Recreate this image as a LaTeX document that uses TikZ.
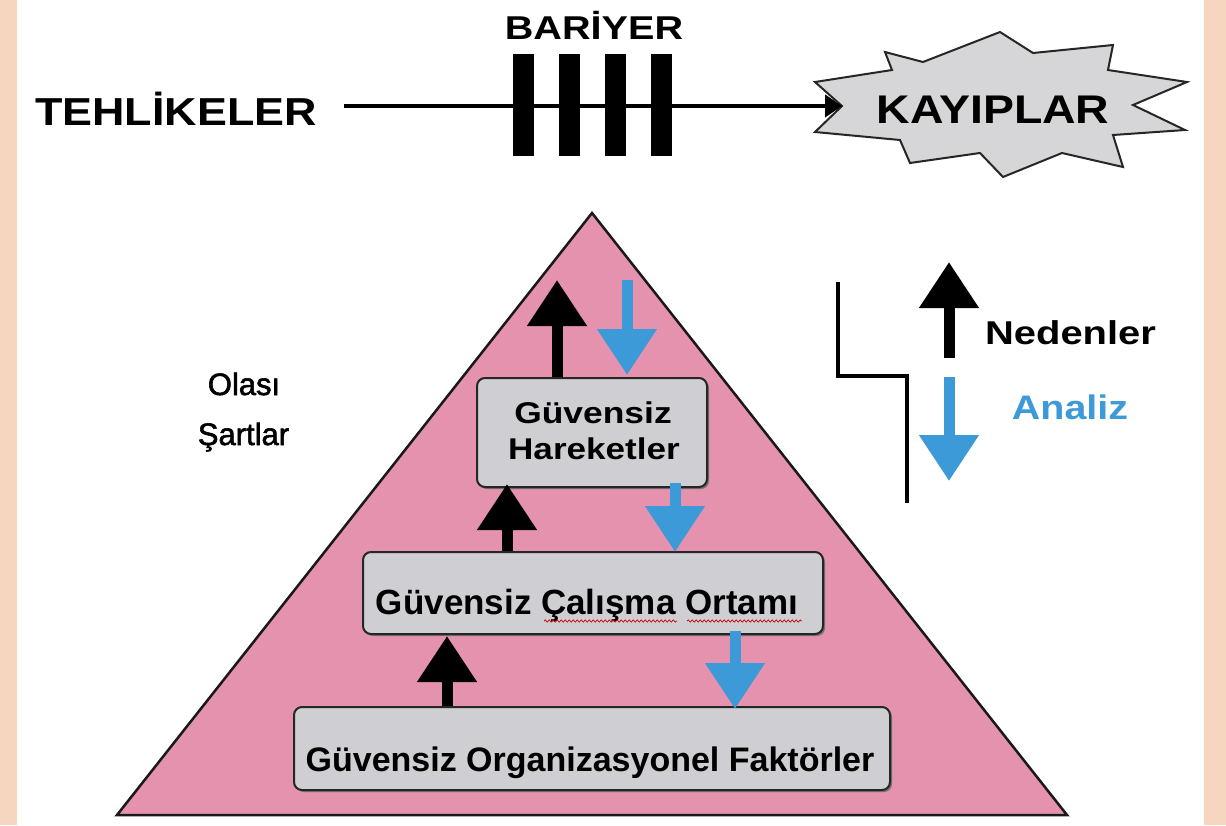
\documentclass[tikz,border=0pt]{standalone}
\usepackage{fontspec}
\usepackage{graphicx}
\setmainfont{Liberation Sans}
\newfontfamily\mediumsans[FakeBold=1.8]{Liberation Sans}
\usetikzlibrary{arrows.meta,calc,shadows,decorations.pathmorphing}

\definecolor{peach}{HTML}{F7D6BF}
\definecolor{pyrpink}{HTML}{E592AE}
\definecolor{boxgray}{HTML}{CFCFD3}
\definecolor{stargray}{HTML}{D6D6D8}
\definecolor{analizblue}{HTML}{3D9AD8}

% horizontal stretch of a label
\newcommand{\hstretch}[2]{\scalebox{#1}[1]{#2}}
\newcommand{\fsz}[1]{\fontsize{#1}{#1}\selectfont}

\begin{document}
\begin{tikzpicture}[x=1pt,y=-1pt,
  lbl/.style={inner sep=0pt, anchor=base},
  layerbox/.style={draw=black!85, line width=2pt, rounded corners=8pt, fill=boxgray,
    inner sep=0pt, drop shadow={shadow xshift=2pt, shadow yshift=-2pt, fill=black!55, opacity=1}},
  barrierbar/.style={fill=black, draw=none, inner sep=0pt, minimum width=21pt, minimum height=102pt},
  flow/.style={line width=4.5pt, -{Triangle[length=17pt,width=22pt]}},
  causeup/.style={line width=11pt, draw=black, -{Triangle[length=46pt,width=57pt]}},
  analysisdown/.style={line width=11pt, draw=analizblue, -{Triangle[length=46pt,width=57pt]}},
  squig/.style={red!80!black, line width=0.7pt, decorate,
    decoration={snake, amplitude=1.1pt, segment length=4pt}}
]
\useasboundingbox (0,0) rectangle (1226,825);
\fill[white] (0,0) rectangle (1226,825);
\fill[peach] (0,0) rectangle (17,825);
\fill[peach] (1204,0) rectangle (1226,825);

% ---------- top row: hazards -> barrier -> losses ----------
\node[lbl] (haz) at (176,125) {\fsz{39}\bfseries\hstretch{1.15}{TEHLİKELER}};
\node[lbl] (barlbl) at (594,39) {\fsz{33}\bfseries\hstretch{1.2}{BARİYER}};

% irregular burst around the losses
\coordinate (starL) at (842,106);
\filldraw[fill=stargray, draw=black!85, line width=2pt, line join=miter]
  (815,82) -- (892,70) -- (885,52) -- (923,62) -- (1000,32) -- (1033,53)
  -- (1113,45) -- (1108,70) -- (1187,82) -- (1133,105) -- (1185,130)
  -- (1113,135) -- (1123,167) -- (1062,153) -- (1003,177) -- (980,153)
  -- (910,163) -- (900,140) -- (815,132) -- (starL) -- cycle;
\node[lbl] (loss) at (993,123) {\fsz{40}\bfseries\hstretch{1.16}{KAYIPLAR}};

\coordinate (hstart) at (344,106);
\draw[flow] (hstart) -- (starL);

\node[barrierbar] (bar1) at (523.5,105) {};
\node[barrierbar] (bar2) at (569,105) {};
\node[barrierbar] (bar3) at (615,105) {};
\node[barrierbar] (bar4) at (661,105) {};

% ---------- pyramid ----------
\coordinate (apex) at (592,213);
\coordinate (baseR) at (1067,815);
\coordinate (baseL) at (117,815);
\filldraw[fill=pyrpink, draw=black!90, line width=2.5pt, line join=miter]
  (apex) -- (baseR) -- (baseL) -- cycle;

\node[layerbox, minimum width=230pt, minimum height=109pt] (acts) at (592,432.5) {};
\node[layerbox, minimum width=460pt, minimum height=82pt] (env) at (593,593) {};
\node[layerbox, minimum width=596pt, minimum height=83pt] (org) at (592,748.5) {};

\node[lbl] (acts1) at (593,423) {\fsz{30}\bfseries\hstretch{1.18}{Güvensiz}};
\node[lbl] (acts2) at (594,459) {\fsz{30}\bfseries\hstretch{1.17}{Hareketler}};
\node[lbl] (envt) at (587,614) {\fsz{35}\bfseries Güvensiz Çalışma Ortamı};
\node[lbl] (orgt) at (590,771) {\fsz{34}\bfseries Güvensiz Organizasyonel Faktörler};

% spell-check marks under two words
\draw[squig] (544,621) -- (677,621);
\draw[squig] (687,621) -- (802,621);

% causes (up) and analysis (down)
\coordinate (causeTop) at (557,280);
\coordinate (analysisTop) at (627,280);
\draw[causeup] ($(acts.north)+(-35,0)$) -- (causeTop);
\draw[analysisdown] (analysisTop) -- ($(acts.north)+(35,-2)$);
\draw[causeup] ($(env.north)+(-86,0)$) -- ($(acts.south)+(-85,-4)$);
\draw[analysisdown] ($(acts.south)+(83,-5)$) -- ($(env.north)+(82,1)$);
\draw[causeup] ($(org.north)+(-145,0)$) -- ($(env.south)+(-146,1)$);
\draw[analysisdown] ($(env.south)+(142,-4)$) -- ($(org.north)+(143,3)$);

\node[lbl] (olasi) at (244,395) {\fsz{31}\mediumsans Olası};
\node[lbl] (sartlar) at (243.5,445) {\fsz{31}\mediumsans Şartlar};

% ---------- legend ----------
\coordinate (brTop) at (838,282);
\coordinate (brMid) at (907,376);
\coordinate (brBot) at (907,503);
\draw[line width=4pt, line join=miter] (brTop) |- (brMid) -- (brBot);

\coordinate (legUpFrom) at (949,358);
\coordinate (legUpTo) at (949,262);
\coordinate (legDnFrom) at (949,377);
\coordinate (legDnTo) at (949,481);
\draw[causeup] (legUpFrom) -- (legUpTo);
\draw[analysisdown] (legDnFrom) -- (legDnTo);

\node[lbl] (neden) at (1070.5,344) {\fsz{33}\bfseries\hstretch{1.21}{Nedenler}};
\node[lbl, text=analizblue] (analiz) at (1070,419) {\fsz{34}\bfseries\hstretch{1.16}{Analiz}};
\end{tikzpicture}
\end{document}
